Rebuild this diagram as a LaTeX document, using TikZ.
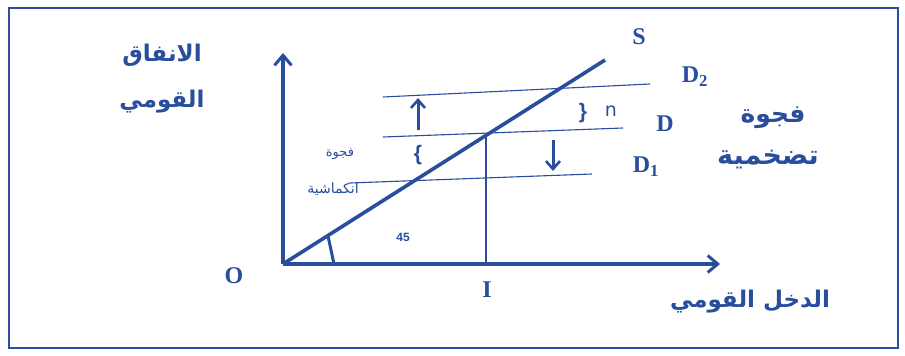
\documentclass[tikz,border=0pt]{standalone}
\usepackage{fontspec}
\setmainfont{Liberation Serif}
\newfontfamily\arabicfont[Script=Arabic]{DejaVu Sans}
\newfontfamily\sansf{Liberation Sans}
\newfontfamily\lightf{DejaVu Sans}
\usetikzlibrary{arrows.meta}
\TeXXeTstate=1
\definecolor{bl}{RGB}{40,78,156}
\begin{document}
\begin{tikzpicture}[x=1pt,y=-1pt,
  ax/.style={draw=bl,line width=3.8pt,-{Straight Barb[length=10pt,width=17pt,line width=3pt]}},
  thin/.style={draw=bl,line width=1.1pt},
  thick/.style={draw=bl,line width=3.6pt},
  marr/.style={draw=bl,line width=3pt,-{Straight Barb[length=8pt,width=14pt,line width=2.6pt]}},
  lab/.style={text=bl,font=\bfseries\fontsize{24}{28}\selectfont,inner sep=0pt},
  ar/.style={text=bl,font=\arabicfont\bfseries\fontsize{23}{27}\selectfont,inner sep=0pt},
  ars/.style={text=bl,font=\arabicfont\fontsize{13}{15}\selectfont,inner sep=0pt},
  br/.style={text=bl,font=\sansf\bfseries\fontsize{21}{24}\selectfont,inner sep=0pt}]
\useasboundingbox (0,0) rectangle (905,356);
\fill[white] (0,0) rectangle (905,356);
\draw[bl,line width=2.4pt] (9,8) rectangle (898,348);
% coordinates
\coordinate (O) at (283,264);
\coordinate (Ytop) at (283,53);
\coordinate (Xend) at (720,264);
\coordinate (Send) at (605,60);
\coordinate (D2a) at (383,97); \coordinate (D2b) at (650,84);
\coordinate (Da) at (383,137); \coordinate (Db) at (623,128);
\coordinate (D1a) at (350,183); \coordinate (D1b) at (592,174);
\coordinate (E) at (486,134);
\coordinate (Ib) at (486,264);
\coordinate (A1) at (328,236); \coordinate (A2) at (334,264);
\coordinate (U1) at (418,130); \coordinate (U2) at (418,98);
\coordinate (W1) at (553,140); \coordinate (W2) at (553,171);
% lines
\draw[thin] (D2a) -- (D2b);
\draw[thin] (Da) -- (Db);
\draw[thin] (D1a) -- (D1b);
\draw[thin] (E) -- (Ib);
\draw[thick] (O) -- (Send);
\draw[thick,line width=3pt] (A1) -- (A2);
\draw[ax] (O) -- (Ytop);
\draw[ax] (O) -- (Xend);
\draw[marr] (U1) -- (U2);
\draw[marr] (W1) -- (W2);
% labels
\node[lab] (S) at (639,37) {S};
\node[lab] (D2) at (695,77) {D\textsubscript{2}};
\node[lab] (D) at (665,124) {D};
\node[lab] (D1) at (646,167) {D\textsubscript{1}};
\node[lab] (Ol) at (234,276) {O};
\node[lab] (Il) at (487,290) {I};
\node[text=bl,font=\sansf\bfseries\fontsize{12}{14}\selectfont,inner sep=0pt] (n45) at (403,237) {45};
\node[br] (b1) at (418,155) {\{};
\node[br] (b2) at (583,113) {\}};
\node[text=bl,font=\lightf\fontsize{19}{22}\selectfont,inner sep=0pt] (nn) at (611,111) {n};
\node[ar] (t1) at (162,55) {\beginR الانفاق\endR};
\node[ar] (t2) at (162,102) {\beginR القومي\endR};
\node[ar,font=\arabicfont\bfseries\fontsize{25}{29}\selectfont] (t3) at (773,118) {\beginR فجوة\endR};
\node[ar,font=\arabicfont\bfseries\fontsize{27}{31}\selectfont] (t4) at (768,160) {\beginR تضخمية\endR};
\node[ars] (t5) at (340,154) {\beginR فجوة\endR};
\node[ars,font=\arabicfont\fontsize{14}{16}\selectfont] (t6) at (333,189) {\beginR انكماشية\endR};
\node[ar] (t7) at (750,302) {\beginR الدخل القومي\endR};
\end{tikzpicture}
\end{document}
